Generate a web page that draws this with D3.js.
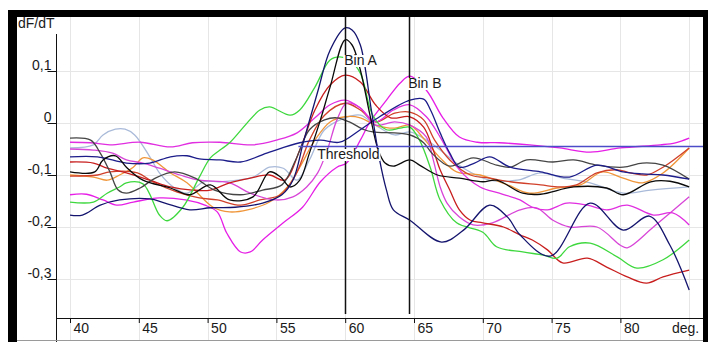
<!DOCTYPE html>
<meta charset="utf-8">
<script src="https://d3js.org/d3.v7.min.js"></script>
<style>
  body { margin: 0; background: #fff; }
  text { font-family: "Liberation Sans", Arial, sans-serif; font-size: 14px; fill: #1a1a1a; }
</style>
<body>
<div id="chart"></div>
<script>
// axis ticks
var temps = [40, 45, 50, 55, 60, 65, 70, 75, 80];
var gridTemps = [40, 45, 50, 55, 60, 65, 70, 75, 80, 85];
var yTicks = [0.1, 0, -0.1, -0.2, -0.3];

// markers
var binA = 60, binB = 64.65;
var threshold = -0.044, thresholdFrom = 56.6;

// melt curves: [temperature, dF/dT]
var navy1 = [[40,-0.177],[40.9,-0.177],[42.2,-0.158],[43.6,-0.148],[45.8,-0.146],[46.9,-0.154],[48.7,-0.167],[50.2,-0.163],[52,-0.162],[54,-0.154],[55.4,-0.138],[56.2,-0.11],[57,-0.033],[58,0.06],[58.9,0.14],[60,0.183],[60.5,0.179],[61.1,0.15],[61.9,0.025],[62.5,-0.071],[63,-0.129],[63.5,-0.167],[64.7,-0.187],[67,-0.229],[68.6,-0.206],[70.5,-0.158],[71.8,-0.181],[72.7,-0.215],[74.9,-0.256],[77.8,-0.154],[80.2,-0.206],[82.1,-0.179],[83.6,-0.235],[85,-0.321]];

var navy2 = [[40,-0.065],[42,-0.065],[44.1,-0.077],[45.8,-0.077],[47.3,-0.065],[48.5,-0.063],[49.4,-0.069],[50.9,-0.071],[52.4,-0.075],[54.5,-0.056],[56.7,-0.038],[58.2,-0.033],[59.6,-0.037],[61.1,-0.013],[62.5,0.012],[64.7,0.044],[65.7,0.046],[66.2,0.025],[66.9,-0.019],[67.6,-0.058],[68.3,-0.085],[69.4,-0.077],[70.5,-0.065],[72,-0.085],[74.2,-0.094],[76.3,-0.104],[78.3,-0.081],[80.2,-0.094],[81.6,-0.098],[83.1,-0.1],[85,-0.108]];

var black1 = [[40,-0.094],[41.8,-0.094],[42.4,-0.071],[43.3,-0.063],[44.1,-0.085],[45.3,-0.11],[47.3,-0.125],[48.7,-0.138],[50.2,-0.119],[51.6,-0.148],[53.3,-0.142],[54.5,-0.094],[55.3,-0.104],[56,-0.123],[56.7,-0.11],[57.4,-0.058],[58.2,0.006],[58.9,0.069],[60,0.16],[60.5,0.15],[61.1,0.102],[61.8,0.015],[62.4,-0.052],[62.9,-0.077],[63.5,-0.083],[64.7,-0.071],[65.4,-0.081],[66.7,-0.1],[68.3,-0.106],[70,-0.113],[71,-0.11],[72.9,-0.135],[74.2,-0.137],[76.6,-0.123],[79,-0.125],[80.2,-0.138],[82.2,-0.113],[83.6,-0.112],[85,-0.123]];

var darkGray = [[40,-0.029],[41.5,-0.033],[42.2,-0.058],[42.9,-0.094],[43.5,-0.129],[44.1,-0.135],[45.1,-0.125],[46.2,-0.106],[47.6,-0.094],[49.1,-0.106],[50.5,-0.129],[52.4,-0.138],[54,-0.129],[55.4,-0.119],[56.4,-0.071],[57.4,-0.013],[58.5,0.006],[59.4,0.01],[60.3,0.002],[61.4,-0.013],[62,-0.017],[64.7,-0.023],[65.7,-0.038],[66.3,-0.058],[67.6,-0.083],[69.3,-0.067],[71,-0.081],[72,-0.085],[73.2,-0.071],[75.1,-0.075],[76.6,-0.071],[78.3,-0.081],[80.2,-0.085],[81.6,-0.077],[83.1,-0.081],[85,-0.108]];

var green = [[40,-0.152],[41.7,-0.152],[42.7,-0.135],[43.6,-0.123],[44.1,-0.115],[45.3,-0.117],[46.5,-0.177],[47.05,-0.188],[48.2,-0.162],[49.4,-0.104],[50.2,-0.067],[50.9,-0.052],[51.6,-0.038],[53.8,0.025],[54.5,0.031],[56,0.015],[56.7,0.025],[57.8,0.069],[58.9,0.121],[59.6,0.127],[60.3,0.121],[61.1,0.096],[62,0.015],[63,-0.013],[64,-0.01],[64.7,-0.008],[65.4,-0.033],[66.2,-0.087],[66.9,-0.148],[68.1,-0.192],[70,-0.21],[71,-0.238],[72.9,-0.248],[74.4,-0.254],[75.4,-0.26],[76.3,-0.238],[77.8,-0.231],[79.8,-0.258],[81.2,-0.279],[83.1,-0.263],[85,-0.225]];

var red1 = [[40,-0.075],[41.7,-0.077],[42.7,-0.087],[44.1,-0.096],[45.8,-0.11],[47.3,-0.123],[48.9,-0.129],[50.2,-0.129],[51.6,-0.115],[53.1,-0.106],[54.5,-0.1],[55.6,-0.11],[56.7,-0.052],[57.8,0.025],[58.9,0.073],[60,0.092],[61.1,0.079],[62.2,0.035],[63.3,0.01],[64.7,0.012],[65.7,-0.008],[66.4,-0.052],[66.9,-0.09],[67.6,-0.129],[68.3,-0.167],[69.1,-0.187],[70,-0.192],[71.5,-0.2],[72.7,-0.215],[73.6,-0.225],[74.7,-0.244],[75.8,-0.269],[77.6,-0.26],[79,-0.277],[80.5,-0.296],[81.9,-0.308],[83.1,-0.296],[85,-0.283]];

var red2 = [[40,-0.102],[42,-0.1],[42.9,-0.094],[44.9,-0.096],[46,-0.113],[47.8,-0.133],[49.4,-0.144],[50.7,-0.148],[52.4,-0.158],[53.8,-0.148],[55.3,-0.138],[56.4,-0.1],[57.4,-0.033],[58.5,0.015],[60,0.038],[61.1,0.025],[62.2,0.002],[63.6,0.019],[64.7,0.021],[65.7,0.006],[66.5,-0.033],[67.6,-0.071],[69.1,-0.1],[70.5,-0.106],[72,-0.113],[74.2,-0.119],[75.6,-0.123],[76.8,-0.119],[78.3,-0.096],[79.8,-0.09],[80.7,-0.096],[81.9,-0.1],[83.1,-0.085],[85,-0.048]];

var orange = [[40,-0.1],[41.7,-0.104],[42.7,-0.11],[43.6,-0.1],[44.6,-0.085],[45.3,-0.067],[46,-0.071],[47.3,-0.096],[48.5,-0.115],[50.4,-0.162],[51.6,-0.171],[52.9,-0.167],[54.5,-0.152],[55.8,-0.123],[56.7,-0.085],[57.8,-0.033],[58.9,0.002],[60,0.012],[61.1,0.01],[62.2,-0.004],[63.6,-0.01],[64.7,-0.004],[65.8,-0.033],[66.9,-0.067],[68.1,-0.094],[69.8,-0.1],[71.8,-0.119],[73.4,-0.135],[75.4,-0.125],[77.1,-0.119],[78.7,-0.094],[80.2,-0.106],[81.6,-0.115],[83.1,-0.096],[85,-0.048]];

var magentaA = [[40,-0.138],[41.2,-0.137],[42.4,-0.148],[43.4,-0.158],[44.6,-0.152],[46.5,-0.144],[48.4,-0.148],[49.8,-0.158],[50.7,-0.171],[51.4,-0.212],[52.4,-0.248],[53.1,-0.248],[54,-0.225],[55.5,-0.192],[56.9,-0.162],[58.2,-0.113],[59.4,-0.085],[60.1,-0.077],[61.1,-0.033],[61.8,0.002],[63,0.044],[64,0.077],[64.7,0.09],[65.9,0.063],[67.1,0.01],[68.3,-0.027],[69.6,-0.037],[71.2,-0.038],[73.4,-0.042],[75.6,-0.048],[77.8,-0.056],[80,-0.048],[82.9,-0.042],[84,-0.038],[85,-0.029]];

var magentaB = [[40,-0.037],[41.5,-0.038],[42.9,-0.042],[45.1,-0.037],[47.3,-0.046],[48.9,-0.038],[50.9,-0.037],[53.3,-0.042],[55,-0.033],[56.5,-0.019],[57.8,0.01],[58.9,0.035],[60,0.044],[61.1,0.029],[62.2,0.002],[63.5,0.025],[64.7,0.035],[65.9,0.012],[66.9,-0.027],[68.3,-0.09],[69.8,-0.123],[71.2,-0.135],[72.7,-0.148],[73.6,-0.162],[74.7,-0.167],[76.1,-0.154],[77.6,-0.158],[79,-0.167],[80.5,-0.158],[82.4,-0.177],[83.8,-0.173],[85,-0.196]];

var magentaC = [[40,-0.05],[41.7,-0.052],[43.1,-0.058],[44.1,-0.071],[45.3,-0.077],[46.5,-0.087],[48,-0.1],[49.4,-0.11],[51.6,-0.115],[53.1,-0.135],[55,-0.148],[56.2,-0.142],[57.2,-0.123],[58,-0.096],[58.7,-0.052],[59.4,0.006],[60.1,0.038],[61.1,0.029],[62.2,-0.004],[63.6,0.002],[64.7,-0.004],[65.9,-0.027],[66.4,-0.071],[66.9,-0.123],[67.4,-0.154],[68.3,-0.181],[69.3,-0.196],[70.7,-0.192],[72.7,-0.167],[73.9,-0.163],[75.1,-0.187],[76.3,-0.2],[78.3,-0.2],[80,-0.235],[80.5,-0.24],[82.4,-0.2],[85,-0.142]];

var lightBlue = [[40,-0.048],[41.7,-0.042],[42.4,-0.023],[43.3,-0.012],[44,-0.012],[44.7,-0.023],[45.8,-0.065],[46.5,-0.096],[47.5,-0.123],[48.5,-0.135],[49.7,-0.113],[50.9,-0.113],[53.3,-0.104],[54.5,-0.085],[55.5,-0.087],[56.5,-0.11],[57.4,-0.071],[58.5,-0.013],[60,0.01],[61.1,0.015],[62.2,-0.004],[63.6,-0.023],[64.7,-0.017],[66.2,-0.038],[68.6,-0.087],[70.5,-0.11],[72.5,-0.11],[74.2,-0.096],[75.8,-0.106],[77.8,-0.115],[80.2,-0.135],[82.2,-0.129],[85,-0.123]];

var series = [
  {pts: lightBlue, color: "#a9bad9"},
  {pts: orange, color: "#f0963a"},
  {pts: red2, color: "#d0402a"},
  {pts: magentaC, color: "#d846d8"},
  {pts: magentaB, color: "#e02ee0"},
  {pts: magentaA, color: "#e61ee6"},
  {pts: red1, color: "#c81e1e"},
  {pts: green, color: "#3ed83e"},
  {pts: darkGray, color: "#454545"},
  {pts: navy2, color: "#1c1c8a"},
  {pts: black1, color: "#0a0a0a"},
  {pts: navy1, color: "#14146e"}
];

var W = 708, H = 342;
var svg = d3.select("#chart").append("svg").attr("width", W).attr("height", H);

var x = d3.scaleLinear().domain([40, 85]).range([70, 689.2]);
var y = d3.scaleLinear().domain([-0.3, 0.1]).range([279, 71]);

// grid
svg.append("g").selectAll("line").data(gridTemps).join("line")
  .attr("x1", d => Math.round(x(d)) + 0.5).attr("x2", d => Math.round(x(d)) + 0.5)
  .attr("y1", 17).attr("y2", 340)
  .attr("stroke", "#e6e6e6");
svg.append("g").selectAll("line").data(yTicks).join("line")
  .attr("x1", 57).attr("x2", 703)
  .attr("y1", d => Math.round(y(d)) + 0.5).attr("y2", d => Math.round(y(d)) + 0.5)
  .attr("stroke", "#e6e6e6");

// curves
svg.append("clipPath").attr("id", "plot")
  .append("rect").attr("x", 57).attr("y", 17).attr("width", 646).attr("height", 301);

var line = d3.line()
  .x(d => x(d[0])).y(d => y(d[1]))
  .curve(d3.curveCatmullRom.alpha(0.5));

svg.append("g").attr("clip-path", "url(#plot)")
  .selectAll("path").data(series).join("path")
  .attr("d", d => line(d.pts))
  .attr("fill", "none")
  .attr("stroke", d => d.color)
  .attr("stroke-width", 1.3);

// bins
[binA, binB].forEach(function(b) {
  svg.append("line")
    .attr("x1", Math.round(x(b)) + 0.5).attr("x2", Math.round(x(b)) + 0.5)
    .attr("y1", 17).attr("y2", 314)
    .attr("stroke", "#111").attr("stroke-width", 1.5);
});

function label(txt, lx, ly) {
  var g = svg.append("g");
  var t = g.append("text").attr("x", lx).attr("y", ly).text(txt);
  var bb = t.node().getBBox();
  g.insert("rect", "text")
    .attr("x", bb.x - 1).attr("y", bb.y + 3)
    .attr("width", bb.width + 2).attr("height", bb.height - 4)
    .attr("fill", "#fff");
}
label("Bin A", x(binA) - 1, 65);
label("Bin B", x(binB) - 1, 88);
label("Threshold", x(binA) - 28, 159);

// threshold
svg.append("line")
  .attr("x1", x(thresholdFrom)).attr("x2", 703)
  .attr("y1", Math.round(y(threshold)) + 0.5).attr("y2", Math.round(y(threshold)) + 0.5)
  .attr("stroke", "#4c4cc8").attr("stroke-width", 1.5);

// axes
var gx = svg.append("g").attr("transform", "translate(0,318)")
  .call(d3.axisBottom(x).tickValues(temps).tickSize(5).tickFormat(d3.format("d")));
gx.select(".domain").remove();
gx.selectAll(".tick line").attr("stroke", "#111");
gx.selectAll(".tick text").attr("x", 3).attr("y", 15).attr("dy", null).attr("text-anchor", "start");

var gy = svg.append("g").attr("transform", "translate(56.5,0)")
  .call(d3.axisLeft(y).tickValues(yTicks).tickSize(9)
    .tickFormat(d => String(d).replace(".", ",")));
gy.select(".domain").remove();
gy.selectAll(".tick line").attr("stroke", "#111");
gy.selectAll(".tick text").attr("x", -5).attr("y", -1.5).attr("dy", null).attr("text-anchor", "end");

svg.append("line").attr("x1", 56.5).attr("x2", 56.5).attr("y1", 34).attr("y2", 342).attr("stroke", "#111");
svg.append("line").attr("x1", 56).attr("x2", 703).attr("y1", 318.5).attr("y2", 318.5).attr("stroke", "#111");
svg.append("line").attr("x1", 17).attr("x2", 703).attr("y1", 340.5).attr("y2", 340.5).attr("stroke", "#9a9a9a");

svg.append("text").attr("x", 18).attr("y", 28).text("dF/dT");
svg.append("text").attr("x", 672).attr("y", 333).text("deg.");

// frame
svg.append("rect").attr("x", 8).attr("y", 10).attr("width", 700).attr("height", 7).attr("fill", "#000");
svg.append("rect").attr("x", 8).attr("y", 10).attr("width", 9).attr("height", 332).attr("fill", "#000");
svg.append("rect").attr("x", 703).attr("y", 10).attr("width", 5).attr("height", 332).attr("fill", "#000");
</script>
</body>
